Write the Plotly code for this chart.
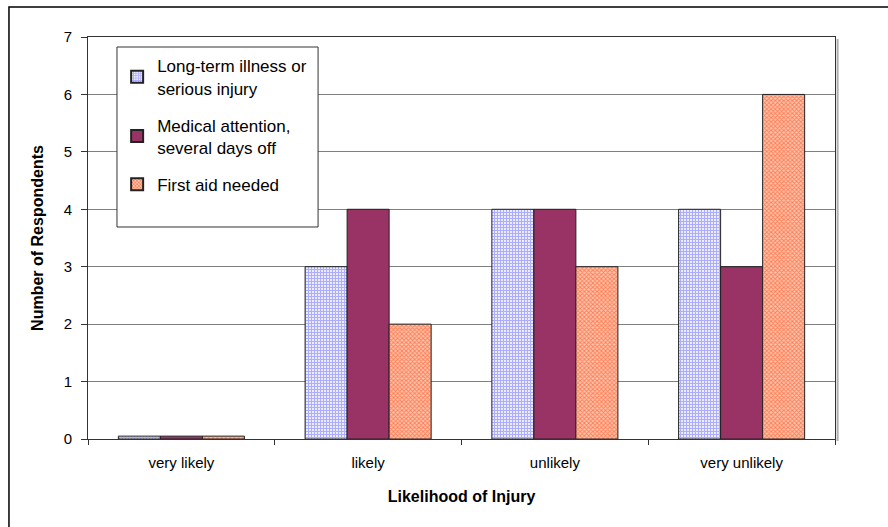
import plotly.graph_objects as go

categories = ["very likely", "likely", "unlikely", "very unlikely"]
long_term = [0.05, 3, 4, 4]
medical = [0.05, 4, 4, 3]
first_aid = [0.05, 2, 3, 6]

series_names = [
    "Long-term illness or<br>serious injury",
    "Medical attention,<br>several days off",
    "First aid needed",
]

FONT = "Liberation Sans, Arial, sans-serif"

fig = go.Figure()
fig.add_trace(go.Bar(
    x=categories, y=long_term, name=series_names[0], legendgroup="g1",
    marker=dict(color="white", line=dict(color="#222", width=1),
                pattern=dict(shape="+", fgcolor="#6a6aff", bgcolor="#f0f0ff",
                             size=3, solidity=0.6)),
))
fig.add_trace(go.Bar(
    x=categories, y=medical, name=series_names[1], legendgroup="g2",
    marker=dict(color="#993366", line=dict(color="#222", width=1)),
))
fig.add_trace(go.Bar(
    x=categories, y=first_aid, name=series_names[2], legendgroup="g3",
    marker=dict(color="white", line=dict(color="#222", width=1),
                pattern=dict(shape="x", fgcolor="#ff3300", bgcolor="#ffc8b0",
                             size=3, solidity=0.55)),
))

fig.update_layout(
    width=888, height=527,
    margin=dict(l=88, r=53, t=37, b=88),
    paper_bgcolor="white", plot_bgcolor="white",
    barmode="group", bargap=0.325, bargroupgap=0,
    font=dict(family=FONT, size=15, color="black"),
    showlegend=True,
    legend=dict(
        x=0.039, y=0.972, xanchor="left", yanchor="top",
        bgcolor="rgba(0,0,0,0)", borderwidth=0,
        font=dict(family=FONT, size=17, color="black"),
        tracegroupgap=12, itemsizing="constant", itemwidth=30,
    ),
    xaxis=dict(
        type="category", tickson="boundaries",
        ticks="outside", ticklen=5, tickcolor="#333",
        showline=True, linecolor="#333", linewidth=1, mirror=True,
        showgrid=False,
        tickfont=dict(family=FONT, size=15),
        ticklabelstandoff=10,
        title=dict(text="<b>Likelihood of Injury</b>",
                   font=dict(family=FONT, size=16), standoff=20),
    ),
    yaxis=dict(
        range=[0, 7], dtick=1,
        ticks="outside", ticklen=6, tickcolor="#333",
        showline=True, linecolor="#333", linewidth=1, mirror=True,
        showgrid=True, gridcolor="#808080", gridwidth=1,
        zeroline=False,
        tickfont=dict(family=FONT, size=15),
        ticklabelstandoff=6,
        title=dict(text="<b>Number of Respondents</b>",
                   font=dict(family=FONT, size=16), standoff=16),
    ),
    shapes=[
        # outer chart frame (left and top edges visible)
        dict(type="rect", xref="paper", yref="paper",
             x0=-0.1058, y0=-0.4, x1=1.2, y1=1.0746,
             line=dict(color="black", width=1.5), layer="below"),
        # soft shadow along the right edge of the plot area
        dict(type="line", xref="paper", yref="paper",
             x0=1.0035, y0=-0.005, x1=1.0035, y1=0.995,
             line=dict(color="#b0b0b0", width=2)),
        # legend frame
        dict(type="rect", xref="paper", yref="paper",
             x0=0.0388, y0=0.5274, x1=0.308, y1=0.9751,
             line=dict(color="#333", width=1), fillcolor="white",
             layer="above"),
    ],
)

fig.write_html("out.html")
